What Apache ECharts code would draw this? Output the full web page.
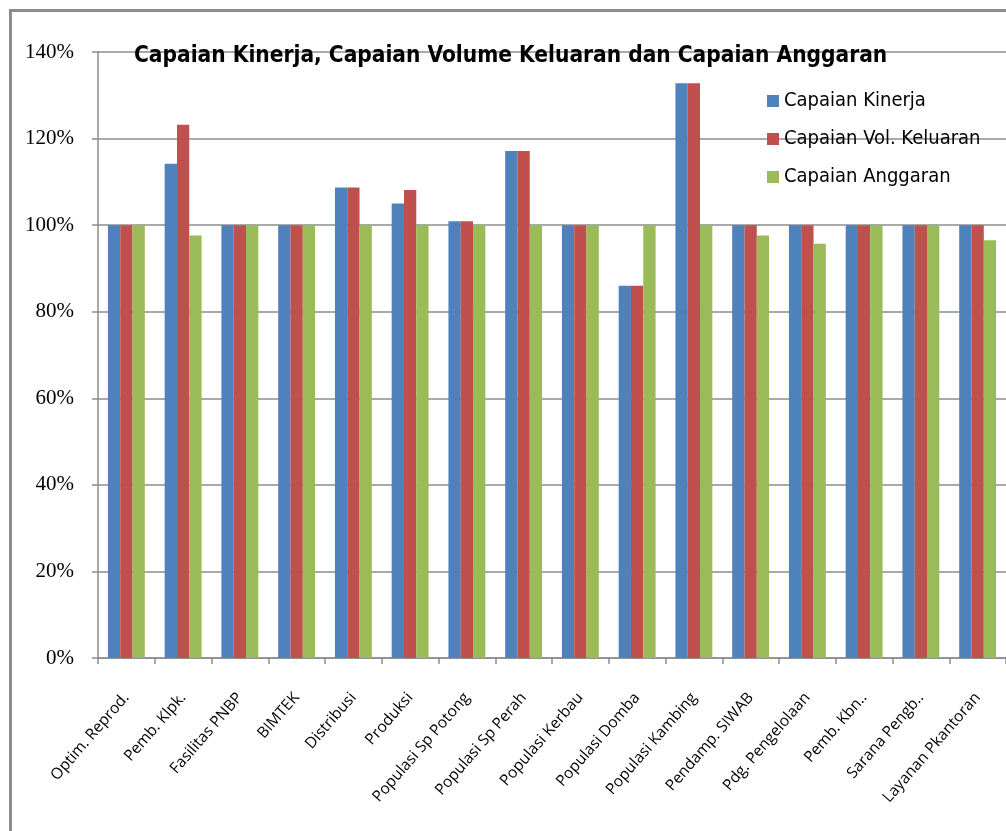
<!DOCTYPE html>
<html>
<head>
<meta charset="utf-8">
<script src="https://cdn.jsdelivr.net/npm/echarts@6/dist/echarts.min.js"></script>
<style>
  html, body { margin: 0; padding: 0; background: #ffffff; }
  #chart { width: 1006px; height: 831px; }
</style>
</head>
<body>
<div id="chart"></div>
<script>
// Categories (activities) shown along the x axis
const categories = [
  'Optim. Reprod.', 'Pemb. Klpk.', 'Fasilitas PNBP', 'BIMTEK', 'Distribusi',
  'Produksi', 'Populasi Sp Potong', 'Populasi Sp Perah', 'Populasi Kerbau',
  'Populasi Domba', 'Populasi Kambing', 'Pendamp. SIWAB', 'Pdg. Pengelolaan',
  'Pemb. Kbn..', 'Sarana Pengb..', 'Layanan Pkantoran'
];

// Achievement values in percent
const capaianKinerja = [100, 114.2, 100, 100, 108.7, 105.0, 100.9, 117.1, 100, 86, 132.8, 100, 100, 100, 100, 100];
const capaianVolKeluaran = [100, 123.2, 100, 100, 108.7, 108.1, 100.9, 117.1, 100, 86, 132.8, 100, 100, 100, 100, 100];
const capaianAnggaran = [100, 97.6, 100, 100, 100, 100, 100, 100, 100, 100, 100, 97.6, 95.7, 100, 100, 96.5];

const seriesNames = ['Capaian Kinerja', 'Capaian Vol. Keluaran', 'Capaian Anggaran'];
const chartTitle = 'Capaian Kinerja, Capaian Volume Keluaran dan Capaian Anggaran';

const narrow = "'DejaVu Sans Condensed', 'Liberation Sans', sans-serif";

const chart = echarts.init(document.getElementById('chart'), null, { renderer: 'canvas' });

const barSeries = (name, data, color) => ({
  name: name,
  type: 'bar',
  data: data,
  barGap: '0%',
  barCategoryGap: '35%',
  itemStyle: { color: color },
  animation: false
});

chart.setOption({
  backgroundColor: '#ffffff',
  animation: false,
  title: {
    text: chartTitle,
    left: 134,
    top: 45,
    padding: 0,
    textStyle: {
      fontFamily: narrow,
      fontWeight: 'bold',
      fontSize: 22.5,
      color: '#000000'
    }
  },
  legend: {
    orient: 'vertical',
    left: 767,
    top: 89,
    padding: 0,
    itemGap: 14,
    itemWidth: 12,
    itemHeight: 12,
    icon: 'rect',
    data: seriesNames,
    textStyle: {
      fontFamily: narrow,
      fontSize: 20,
      lineHeight: 24,
      color: '#000000',
      padding: [0, 0, 0, 0]
    }
  },
  grid: {
    left: 98,
    top: 52,
    width: 918,
    height: 606
  },
  xAxis: {
    type: 'category',
    data: categories,
    boundaryGap: true,
    axisLine: { lineStyle: { color: '#8c8c8c', width: 1.5 } },
    axisTick: { show: true, length: 6, lineStyle: { color: '#8c8c8c', width: 1.5 } },
    axisLabel: {
      interval: 0,
      rotate: 49,
      margin: 37,
      fontFamily: "'Open Sans', 'Noto Sans', sans-serif",
      fontSize: 15.5,
      color: '#000000'
    },
    splitLine: { show: false }
  },
  yAxis: {
    type: 'value',
    min: 0,
    max: 140,
    interval: 20,
    axisLine: { show: true, lineStyle: { color: '#8c8c8c', width: 1.5 } },
    axisTick: { show: true, length: 6, lineStyle: { color: '#8c8c8c', width: 1.5 } },
    axisLabel: {
      formatter: '{value}%',
      margin: 24,
      fontFamily: "'Liberation Serif', 'DejaVu Serif', serif",
      fontSize: 21,
      color: '#000000'
    },
    splitLine: { show: true, lineStyle: { color: '#8c8c8c', width: 1.5 } }
  },
  graphic: [
    {
      type: 'rect',
      left: 8,
      top: 8,
      shape: { x: 0, y: 0, width: 1100, height: 900 },
      style: { fill: 'none', stroke: '#8c8c8c', lineWidth: 3 },
      silent: true,
      z: 100
    }
  ],
  series: [
    barSeries(seriesNames[0], capaianKinerja, '#4F81BD'),
    barSeries(seriesNames[1], capaianVolKeluaran, '#C0504D'),
    barSeries(seriesNames[2], capaianAnggaran, '#9BBB59')
  ]
});
</script>
</body>
</html>
